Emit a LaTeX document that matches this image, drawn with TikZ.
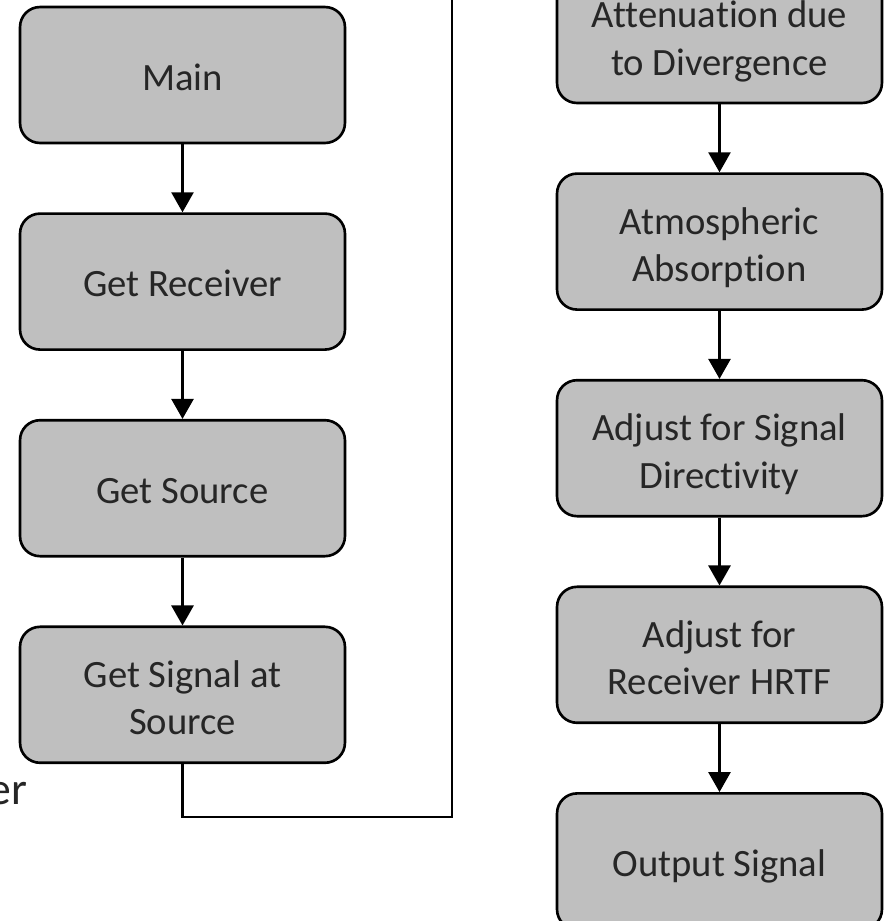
\documentclass[tikz,border=0pt]{standalone}
\usepackage{fontspec}
\setmainfont{Carlito}[Ligatures=NoCommon]
\usepackage{tikz}
\usetikzlibrary{positioning,arrows.meta,shapes}
\usepackage{xcolor}

\begin{document}
\begin{tikzpicture}[x=0.02cm, y=-0.02cm, node distance=1.36cm,
        stepbox/.style={draw=black, line width=1.5pt, fill=gray!50, rounded corners=0.4cm,
            minimum width=6.5cm, minimum height=2.72cm, align=center,
            font=\fontsize{22}{27}\selectfont, text=black!85,
            text height=0.6cm, text depth=0cm},
        twoline/.style={stepbox, text height=1.6cm},
        flow/.style={line width=1.5pt, -{Triangle[width=0.44cm, length=0.4cm]}}]
        \useasboundingbox (0,0) rectangle (887,921);

        \node[stepbox] (main) at (182.5,75) {Main};
        \node[stepbox, below=of main] (receiver) {Get Receiver};
        \node[stepbox, below=of receiver] (source) {Get Source};
        \node[twoline, below=of source] (signal) {Get Signal at\\Source};

        \node[twoline] (divergence) at (719.5,35) {Attenuation due\\to Divergence};
        \node[twoline, below=of divergence] (absorption) {Atmospheric\\Absorption};
        \node[twoline, below=of absorption] (directivity) {Adjust for Signal\\Directivity};
        \node[twoline, below=of directivity] (hrtf) {Adjust for\\Receiver\ HRTF};
        \node[stepbox, below=of hrtf] (output) {Output Signal};

        \draw[flow] (main) -- (receiver);
        \draw[flow] (receiver) -- (source);
        \draw[flow] (source) -- (signal);
        \draw[flow] (divergence) -- (absorption);
        \draw[flow] (absorption) -- (directivity);
        \draw[flow] (directivity) -- (hrtf);
        \draw[flow] (hrtf) -- (output);

        \coordinate (loopcorner) at (452,817);
        \coordinate (loopend) at (452,0);
        \draw[line width=1.5pt] (signal.south) |- (loopcorner) -- (loopend);

        \node[anchor=base east, inner sep=0pt, font=\fontsize{26}{30}\selectfont, text=black!85] (cutlabel) at (28,804) {er};
    \end{tikzpicture}
\end{document}
